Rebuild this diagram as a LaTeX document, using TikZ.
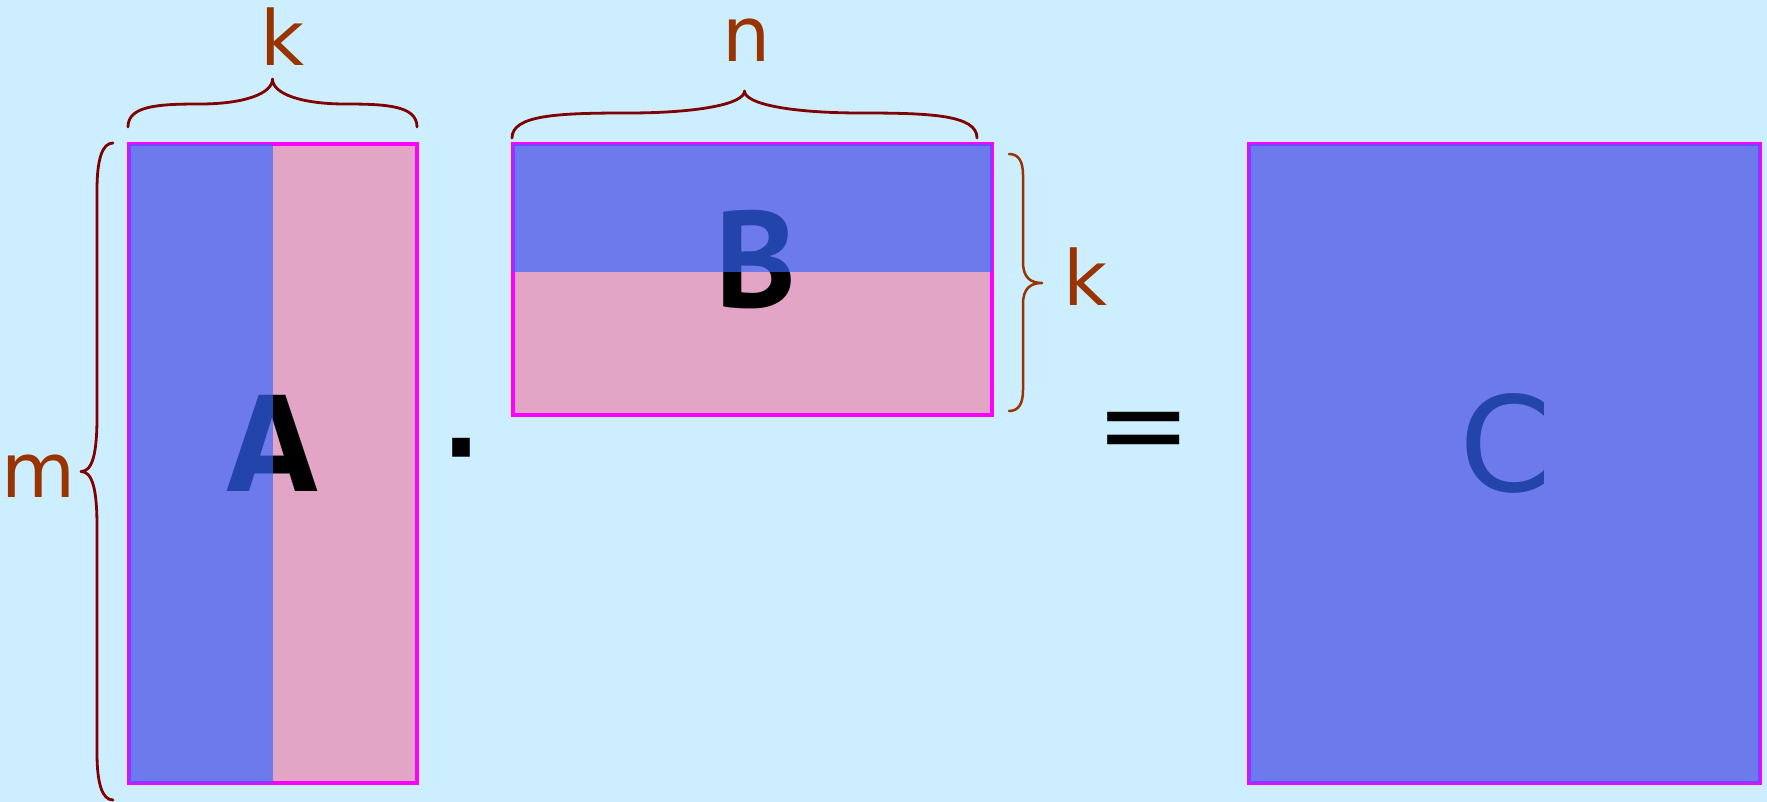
\documentclass[tikz,border=0pt]{standalone}
\usepackage{fontspec}
\setsansfont{DejaVu Sans}
\newfontfamily\ptsans{PT Sans}
\newfontfamily\condsans{DejaVu Sans Condensed}
\usepackage{tikz}

\definecolor{bgblue}{HTML}{CCEEFF}
\definecolor{cellpink}{HTML}{E3A5C5}
\definecolor{cellblue}{HTML}{3366FF}
\definecolor{edgemag}{HTML}{FF00FF}
\definecolor{bracered}{HTML}{800000}
\definecolor{labbrown}{HTML}{993300}

\begin{document}
\begin{tikzpicture}[x=1pt, y=-1pt, line width=2.8pt, line cap=round, line join=round]

  % ── 背景 ──
  \fill[bgblue] (0,0) rectangle (1767,802);

  % ── 三个矩阵：粉底 + 品红边框（A / B / C）──
  \foreach \xa/\ya/\xb/\yb in {129/144/417/783, 513/144/992/415, 1249/144/1760/783}
    \filldraw[fill=cellpink, draw=edgemag, line width=3.5pt, line cap=butt, line join=miter]
      (\xa,\ya) rectangle (\xb,\yb);

  % ── 字母：黑色先画，再被蓝色半透明层盖住一部分 ──
  \node[anchor=center, inner sep=0pt, font=\condsans\bfseries\fontsize{132}{132}\selectfont] (labA) at (272.5,443) {A};
  \node[anchor=center, inner sep=0pt, font=\ptsans\bfseries\fontsize{137}{137}\selectfont] (labB) at (756,259.5) {B};
  \node[anchor=center, inner sep=0pt, font=\sffamily\fontsize{132}{132}\selectfont] (labC) at (1505.5,443) {C};

  % ── 蓝色半透明层：A 左半 / B 上半 / C 全部 ──
  \foreach \xa/\ya/\xb/\yb in {129/144/273/783, 513/144/992/272, 1249/144/1760/783}
    \fill[cellblue, opacity=0.67] (\xa,\ya) rectangle (\xb,\yb);

  % ── 花括号：A 上方 k、B 上方 n、A 左侧 m ──
  \draw[bracered] (128,127) .. controls (128,106) and (157,104) .. (200,104)
    .. controls (243,104) and (272.5,94) .. (272.5,79)
    .. controls (272.5,94) and (302,104) .. (345,104)
    .. controls (388,104) and (417,106) .. (417,127);
  \draw[bracered] (512,138) .. controls (512,115) and (558,113) .. (628,113)
    .. controls (698,113) and (744.5,104) .. (744.5,91)
    .. controls (744.5,104) and (791,113) .. (861,113)
    .. controls (931,113) and (977,115) .. (977,138);
  \draw[bracered] (113,143) .. controls (102,143) and (97,160) .. (97,190) -- (97,417)
    .. controls (97,455) and (92,471.5) .. (81,471.5)
    .. controls (92,471.5) and (97,488) .. (97,526) -- (97,753)
    .. controls (97,783) and (102,800) .. (113,800);

  % ── B 右侧 k 的花括号（颜色偏棕）──
  \draw[labbrown, line width=2.5pt] (1009,154) .. controls (1019,154) and (1023,162) .. (1023,175) -- (1023,262)
    .. controls (1023,277) and (1030,283) .. (1042,283)
    .. controls (1030,283) and (1023,289) .. (1023,304) -- (1023,390)
    .. controls (1023,403) and (1019,411) .. (1009,411);

  % ── 维度标签（\x/\y/字母/名字）──
  \foreach \x/\y/\lab/\nm in {283/37/k/labKa, 747/40.5/n/labN, 38.5/476/m/labM, 1085/277/k/labKb}
    \node[anchor=center, inner sep=0pt, text=labbrown, font=\sffamily\fontsize{76}{76}\selectfont] (\nm) at (\x,\y) {\lab};

  % ── 运算符：乘点、等号（y 已按字形墨心偏差回修）──
  \node[anchor=center, inner sep=0pt, font=\sffamily\bfseries\fontsize{100}{100}\selectfont] (dotop) at (461,460) {·};
  \node[anchor=center, inner sep=0pt, font=\sffamily\fontsize{115}{115}\selectfont] (eqop) at (1144,438.6) {=};

  % 钉死画布
  \path[use as bounding box] (0,0) rectangle (1767,802);
\end{tikzpicture}
\end{document}
